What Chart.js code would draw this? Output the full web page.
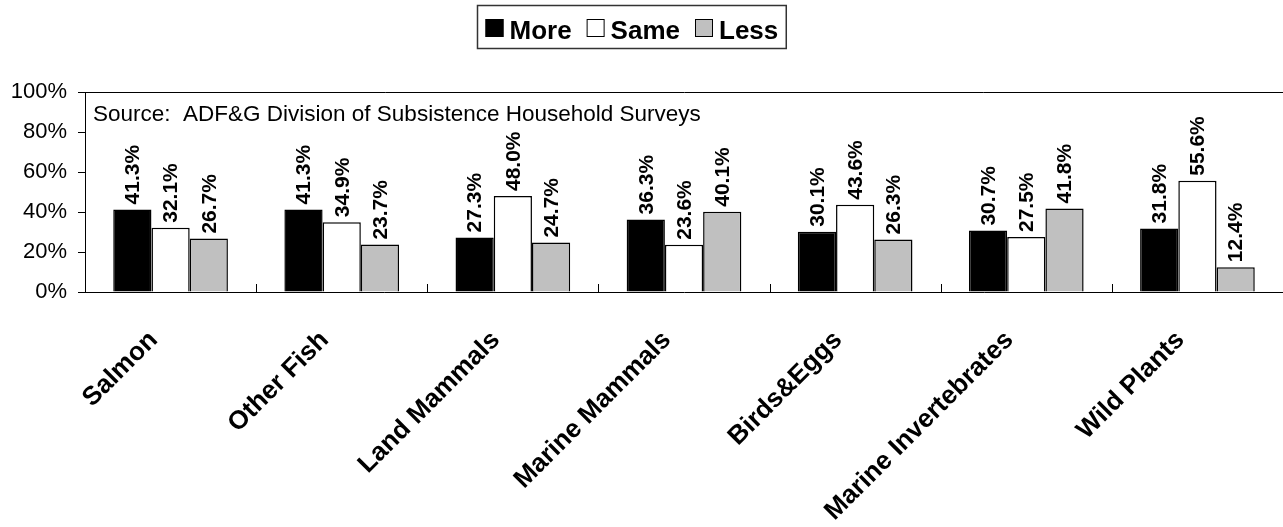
<!DOCTYPE html>
<html>
<head>
<meta charset="utf-8">
<script src="https://cdn.jsdelivr.net/npm/chart.js@4.4.1/dist/chart.umd.min.js"></script>
<style>
	html, body { margin: 0; padding: 0; background: #fff; }
</style>
</head>
<body>
<canvas id="harvest_graph_canvas" width="1283" height="527"></canvas>
<script>
var categories = ["Salmon", "Other Fish", "Land Mammals", "Marine Mammals", "Birds&Eggs", "Marine Invertebrates", "Wild Plants"];
var more_values = [41.3, 41.3, 27.3, 36.3, 30.1, 30.7, 31.8];
var same_values = [32.1, 34.9, 48.0, 23.6, 43.6, 27.5, 55.6];
var less_values = [26.7, 23.7, 24.7, 40.1, 26.3, 41.8, 12.4];
var series_names = ["More", "Same", "Less"];
var y_ticks = [0, 20, 40, 60, 80, 100];
var source_note = "Source:  ADF&G Division of Subsistence Household Surveys";

var font_family = "Arial, 'Liberation Sans', sans-serif";

// value labels, rotated, above each bar
var barLabels = {
	id: "barLabels",
	afterDatasetsDraw: function(chart){
		var ctx = chart.ctx;
		ctx.save();
		ctx.fillStyle = "#000";
		ctx.font = "bold 21px " + font_family;
		ctx.textAlign = "left";
		ctx.textBaseline = "middle";
		chart.data.datasets.forEach(function(ds, i){
			var meta = chart.getDatasetMeta(i);
			meta.data.forEach(function(bar, j){
				ctx.save();
				ctx.translate(bar.x + 1, bar.y - 5);
				ctx.rotate(-Math.PI / 2);
				ctx.fillText(ds.data[j].toFixed(1) + "%", 0, 0);
				ctx.restore();
			});
		});
		ctx.restore();
	}
};

// small tick marks between categories, pointing up into the plot
var categoryMarks = {
	id: "categoryMarks",
	afterDatasetsDraw: function(chart){
		var ctx = chart.ctx;
		var x = chart.scales.x;
		var bottom = chart.chartArea.bottom;
		ctx.save();
		ctx.strokeStyle = "#000";
		ctx.lineWidth = 1;
		for(var i = 1; i < categories.length; i++){
			var px = Math.round((x.getPixelForTick(i - 1) + x.getPixelForTick(i)) / 2) + 0.5;
			ctx.beginPath();
			ctx.moveTo(px, bottom);
			ctx.lineTo(px, bottom - 8);
			ctx.stroke();
		}
		ctx.restore();
	}
};

// source note inside the plot + boxed legend on top
var notesAndLegend = {
	id: "notesAndLegend",
	afterDraw: function(chart){
		var ctx = chart.ctx;
		var area = chart.chartArea;
		ctx.save();
		ctx.fillStyle = "#000";
		ctx.font = "22.5px " + font_family;
		ctx.textAlign = "left";
		ctx.textBaseline = "alphabetic";
		ctx.fillText(source_note, area.left + 8, area.top + 29);

		// legend
		ctx.font = "bold 26px " + font_family;
		var sq = 18, gap = 6, itemGap = 15, pad = 8;
		var total = pad * 2;
		chart.data.datasets.forEach(function(ds, i){
			total += sq + gap + ctx.measureText(ds.label).width;
			if(i > 0) total += itemGap;
		});
		var left = Math.round(chart.width / 2 - 10 - total / 2) + 0.5;
		var top = 5.5, height = 43;
		ctx.strokeStyle = "#333";
		ctx.lineWidth = 1.5;
		ctx.strokeRect(left, top, total, height);
		var cx = left + pad;
		chart.data.datasets.forEach(function(ds, i){
			ctx.fillStyle = ds.backgroundColor;
			ctx.fillRect(cx, 19, sq, sq);
			ctx.strokeStyle = "#000";
			ctx.lineWidth = 1;
			ctx.strokeRect(cx + 0.5, 19.5, sq - 1, sq - 1);
			cx += sq + gap;
			ctx.fillStyle = "#000";
			ctx.fillText(ds.label, cx, 39);
			cx += ctx.measureText(ds.label).width + itemGap;
		});
		ctx.restore();
	}
};

var harvest_graph_canvas = document.getElementById("harvest_graph_canvas");
var harvest_chart = new Chart(harvest_graph_canvas, {
	type: 'bar',
	data: {
		labels: categories,
		datasets: [
			{
				label: series_names[0],
				backgroundColor: "#000000",
				borderColor: "#000000",
				borderWidth: 1.5,
				data: more_values
			},
			{
				label: series_names[1],
				backgroundColor: "#ffffff",
				borderColor: "#000000",
				borderWidth: 1.5,
				data: same_values
			},
			{
				label: series_names[2],
				backgroundColor: "#c0c0c0",
				borderColor: "#000000",
				borderWidth: 1.5,
				data: less_values
			}
		]
	},
	options: {
		responsive: false,
		animation: false,
		devicePixelRatio: 1,
		layout: { padding: { top: 92, left: 0, right: 0, bottom: 0 } },
		datasets: {
			bar: { categoryPercentage: 0.67, barPercentage: 1.0 }
		},
		plugins: {
			legend: { display: false },
			tooltip: { enabled: false }
		},
		scales: {
			x: {
				grid: { drawOnChartArea: false, drawTicks: false, color: "rgba(0,0,0,0)" },
				border: { display: true, color: "#000", width: 1 },
				ticks: {
					autoSkip: false,
					minRotation: 45,
					maxRotation: 45,
					padding: 33,
					labelOffset: -17,
					color: "#000",
					font: { family: font_family, size: 26, weight: "bold" }
				},
				afterFit: function(scale){ scale.height = 235; }
			},
			y: {
				min: 0,
				max: 100,
				afterBuildTicks: function(scale){
					scale.ticks = y_ticks.map(function(v){ return { value: v }; });
				},
				grid: {
					drawOnChartArea: true,
					color: function(c){ return c.tick && c.tick.value === 100 ? "#000" : "rgba(0,0,0,0)"; },
					tickColor: "#000",
					tickLength: 7,
					lineWidth: 1
				},
				border: { display: true, color: "#000", width: 1 },
				ticks: {
					padding: 11,
					color: "#000",
					font: { family: font_family, size: 22 },
					callback: function(v){ return v + "%"; }
				},
				afterFit: function(scale){ scale.width = 85; }
			}
		}
	},
	plugins: [barLabels, categoryMarks, notesAndLegend]
});
</script>
</body>
</html>
